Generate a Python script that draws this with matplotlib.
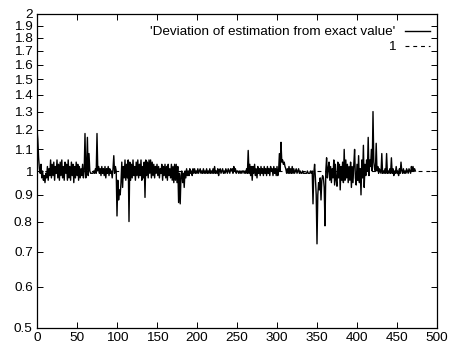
import numpy as np
import matplotlib
matplotlib.use("Agg")
import matplotlib.pyplot as plt
import matplotlib.ticker as ticker

plt.rcParams['font.family'] = ['Liberation Sans', 'DejaVu Sans']
plt.rcParams['font.size'] = 9.7

# deviation ratio, one value per step
deviation = [
    1.20, 1.15, 1.06, 1.01, 0.99, 1.03, 0.97, 1.00, 0.96, 0.98,
    0.95, 0.99, 0.97, 1.02, 0.96, 1.01, 0.98, 1.05, 0.97, 1.03,
    0.98, 1.04, 0.96, 1.02, 0.99, 1.05, 0.97, 1.03, 0.96, 1.04,
    0.98, 1.05, 0.97, 1.02, 0.96, 1.04, 0.99, 1.03, 0.96, 1.05,
    0.97, 1.02, 0.96, 1.04, 0.98, 1.03, 0.95, 1.02, 0.97, 1.04,
    0.98, 1.03, 0.96, 1.02, 0.97, 1.01, 0.98, 1.03, 0.97, 1.00,
    1.18, 0.97, 1.02, 1.16, 0.98, 1.08, 1.00, 0.99, 0.99, 0.99,
    0.99, 1.00, 0.99, 1.01, 0.99, 1.18, 1.00, 1.02, 0.99, 1.01,
    0.98, 1.02, 0.99, 1.01, 0.98, 1.02, 0.97, 1.01, 0.99, 1.02,
    0.98, 1.01, 0.99, 1.00, 0.97, 1.01, 1.07, 0.99, 1.02, 1.00,
    0.82, 0.96, 0.88, 0.92, 0.90, 0.95, 1.04, 0.93, 1.02, 0.97,
    1.05, 0.96, 1.03, 0.97, 1.05, 0.80, 1.04, 0.96, 1.03, 0.97,
    1.05, 0.98, 1.02, 0.96, 1.04, 0.98, 1.05, 0.97, 1.03, 0.98,
    1.05, 0.96, 1.02, 0.97, 1.04, 0.89, 1.05, 0.98, 1.04, 0.97,
    1.05, 0.99, 1.05, 0.97, 1.04, 0.98, 1.03, 0.97, 1.02, 0.99,
    1.03, 0.98, 1.02, 0.97, 1.01, 0.99, 1.03, 0.96, 1.02, 0.98,
    1.03, 0.97, 1.02, 0.96, 1.03, 0.98, 1.01, 0.97, 1.03, 0.96,
    1.02, 0.95, 1.03, 0.96, 1.03, 0.95, 1.02, 0.87, 0.99, 0.865,
    0.98, 1.00, 0.95, 0.99, 0.93, 1.00, 0.97, 1.01, 0.98, 1.00,
    0.98, 1.01, 0.99, 1.00, 0.98, 1.01, 0.99, 1.01, 0.99, 1.00,
    0.99, 1.01, 0.99, 1.00, 1.01, 0.99, 1.00, 0.99, 1.01, 0.99,
    1.00, 0.99, 1.01, 0.99, 1.00, 0.99, 1.01, 0.99, 1.00, 0.99,
    1.01, 0.99, 1.02, 0.99, 1.00, 0.99, 1.01, 0.98, 1.00, 1.01,
    0.99, 1.00, 1.01, 0.99, 1.00, 0.99, 1.01, 1.00, 0.99, 1.01,
    1.00, 0.99, 1.01, 1.00, 1.01, 0.99, 1.02, 1.00, 1.01, 0.99,
    1.00, 1.00, 0.99, 1.00, 0.99, 1.00, 0.99, 1.00, 1.00, 0.99,
    1.00, 0.99, 1.01, 0.99, 1.095, 0.99, 1.03, 0.98, 1.02, 0.96,
    1.02, 0.99, 1.03, 0.98, 1.01, 0.97, 1.02, 0.99, 1.01, 0.98,
    1.02, 0.99, 1.01, 0.98, 1.02, 0.99, 1.01, 0.98, 1.02, 0.99,
    1.01, 0.98, 1.02, 1.00, 1.01, 0.98, 1.02, 0.99, 1.01, 0.98,
    1.02, 0.98, 1.00, 1.08, 1.00, 1.135, 1.04, 1.05, 1.03, 1.04,
    1.02, 1.01, 0.99, 1.01, 0.99, 1.02, 0.99, 1.01, 0.99, 1.02,
    0.99, 1.01, 0.99, 1.00, 1.01, 0.99, 1.00, 1.01, 0.99, 1.00,
    0.99, 0.99, 1.00, 0.99, 0.99, 0.99, 0.99, 0.99, 1.00, 0.99,
    0.99, 0.99, 1.00, 0.99, 1.00, 0.865, 0.99, 1.03, 0.97, 0.90,
    0.725, 0.90, 0.95, 0.92, 0.97, 0.88, 0.96, 0.98, 0.97, 0.93,
    0.785, 1.00, 1.06, 0.97, 1.01, 1.04, 0.96, 1.02, 0.95, 1.01,
    0.97, 1.05, 0.94, 1.03, 0.96, 0.935, 1.04, 0.97, 1.03, 0.92,
    1.02, 0.96, 1.04, 0.95, 1.10, 0.96, 1.05, 0.97, 1.03, 0.95,
    1.02, 0.96, 1.04, 0.93, 1.02, 0.95, 1.03, 1.10, 0.97, 0.94,
    1.03, 0.96, 1.07, 0.95, 1.01, 0.90, 1.05, 0.97, 1.12, 0.93,
    1.03, 0.98, 1.05, 1.00, 1.16, 0.98, 1.05, 1.02, 1.10, 1.00,
    1.30, 1.04, 1.01, 1.00, 1.13, 1.00, 1.02, 0.99, 1.01, 1.00,
    0.99, 1.08, 0.99, 1.00, 0.99, 1.01, 0.99, 1.08, 0.99, 1.00,
    0.99, 1.01, 0.99, 1.06, 0.99, 1.01, 0.98, 1.00, 0.99, 1.02,
    0.99, 1.00, 0.98, 1.01, 0.99, 1.04, 1.00, 0.99, 1.01, 0.99,
    1.00, 0.99, 1.01, 1.00, 0.99, 1.01, 1.00, 0.99, 1.02, 1.00,
    1.02, 1.00, 1.01, 1.00,
]
steps = np.arange(len(deviation))

reference_x = [0, 500]
reference_y = [1, 1]

y_ticks = [0.5, 0.6, 0.7, 0.8, 0.9, 1, 1.1, 1.2, 1.3, 1.4, 1.5, 1.6, 1.7, 1.8, 1.9, 2]
x_ticks = list(range(0, 501, 50))

fig = plt.figure(figsize=(4.53, 3.47), dpi=100)
ax = fig.add_axes([37 / 453, 1 - 328 / 347, 400 / 453, 314 / 347])

ax.plot(steps, deviation, color='black', lw=1.0,
        label="'Deviation of estimation from exact value'", zorder=3)
ax.plot(reference_x, reference_y, color='black', lw=0.8, linestyle=(0, (3.5, 3.5)),
        label='1', zorder=2)

ax.set_yscale('log')
ax.set_xlim(0, 500)
ax.set_ylim(0.5, 2)
ax.yaxis.set_major_locator(ticker.FixedLocator(y_ticks))
ax.yaxis.set_minor_locator(ticker.NullLocator())
ax.yaxis.set_major_formatter(ticker.FixedFormatter([f'{v:g}' for v in y_ticks]))
ax.set_xticks(x_ticks)

ax.tick_params(direction='in', length=4, width=0.7, top=True, right=True, pad=3,
               labelsize=9.7)
for s in ax.spines.values():
    s.set_linewidth(0.9)

ax.legend(loc='upper right', bbox_to_anchor=(0.9825, 0.962), frameon=False,
          markerfirst=False, borderpad=0, borderaxespad=0, handlelength=1.85,
          handletextpad=0.74, labelspacing=0.2, fontsize=9.7)

fig.savefig('out.png', dpi=100)
